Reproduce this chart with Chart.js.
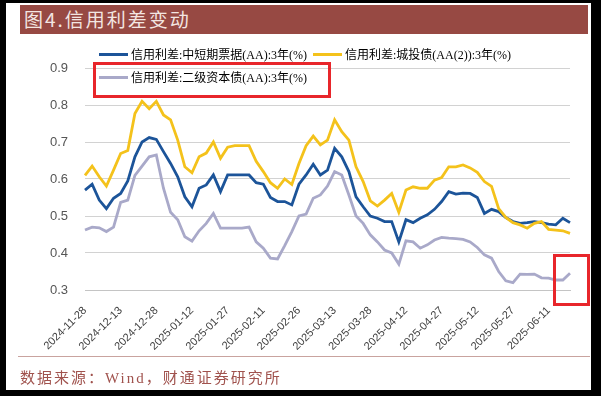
<!DOCTYPE html>
<html>
<head>
<meta charset="utf-8">
<script src="https://cdn.jsdelivr.net/npm/chart.js@4.4.1/dist/chart.umd.min.js"></script>
<style>
  html, body { margin: 0; padding: 0; background: #000; width: 601px; height: 396px; overflow: hidden; }
  .abs { position: absolute; }
  #paper { left: 6px; top: 3px; width: 585px; height: 387px; background: #fff; }
  #titleBar { left: 20px; top: 5px; width: 568px; height: 29px; background: #974943; }
  #titleText { left: 24px; top: 6px; font: 19px "Noto Sans CJK SC", sans-serif; color: #f3e6e2; letter-spacing: 2px; line-height: 26px; }
  #footLine { left: 18px; top: 356px; width: 572px; height: 1px; background: #c9a39f; }
  #footText { left: 20px; top: 367px; font: 15px "Liberation Serif", "Noto Sans CJK SC", serif; color: #a0524d; letter-spacing: 2px; line-height: 22px; }
  #chart { left: 0; top: 0; }
  .legendItem { position: absolute; height: 16px; display: flex; align-items: center; font: 12px "Liberation Serif", "Noto Sans CJK SC", serif; color: #000; white-space: nowrap; }
  .legendItem span.swatch { display: inline-block; width: 29px; height: 3px; margin-right: 3px; }
  .redBox { position: absolute; border: 3px solid #e8262b; box-sizing: border-box; }
</style>
</head>
<body>
<div id="paper" class="abs"></div>
<div id="titleBar" class="abs"></div>
<div id="titleText" class="abs">图4.信用利差变动</div>
<canvas id="chart" class="abs" width="601" height="396"></canvas>
<div id="legend"></div>
<div id="footLine" class="abs"></div>
<div id="footText" class="abs">数据来源：Wind，财通证券研究所</div>
<div class="redBox" style="left:93px;top:62px;width:238px;height:36px;"></div>
<div class="redBox" style="left:553px;top:254px;width:37px;height:52px;"></div>
<script>
// sampled every 3 days starting 2024-11-28
const startDate = '2024-11-28';
const stepDays = 3;

const tickLabels = ['2024-11-28', '2024-12-13', '2024-12-28', '2025-01-12', '2025-01-27',
    '2025-02-11', '2025-02-26', '2025-03-13', '2025-03-28', '2025-04-12',
    '2025-04-27', '2025-05-12', '2025-05-27', '2025-06-11'];

const seriesNames = ['信用利差:中短期票据(AA):3年(%)', '信用利差:城投债(AA(2)):3年(%)', '信用利差:二级资本债(AA):3年(%)'];
const seriesColors = ['#1c5499', '#f4c21b', '#a9a9c9'];

const mtnSpread = [0.57, 0.586, 0.543, 0.52, 0.548, 0.561, 0.595, 0.66, 0.70, 0.712,
    0.707, 0.674, 0.642, 0.606, 0.552, 0.525, 0.575, 0.584, 0.611, 0.566,
    0.611, 0.611, 0.611, 0.611, 0.59, 0.586, 0.55, 0.539, 0.539, 0.53,
    0.586, 0.611, 0.64, 0.611, 0.624, 0.683, 0.66, 0.62, 0.552, 0.525,
    0.50, 0.494, 0.485, 0.485, 0.43, 0.49, 0.482, 0.494, 0.503, 0.518,
    0.539, 0.566, 0.559, 0.562, 0.561, 0.55, 0.507, 0.518, 0.512, 0.496,
    0.485, 0.48, 0.482, 0.485, 0.482, 0.478, 0.476, 0.494, 0.482];

const lgfvSpread = [0.61, 0.635, 0.606, 0.581, 0.624, 0.669, 0.677, 0.777, 0.81, 0.79,
    0.81, 0.773, 0.76, 0.705, 0.633, 0.617, 0.66, 0.67, 0.70, 0.656,
    0.686, 0.69, 0.69, 0.69, 0.648, 0.62, 0.59, 0.575, 0.60, 0.585,
    0.642, 0.69, 0.716, 0.692, 0.705, 0.76, 0.728, 0.705, 0.633, 0.593,
    0.541, 0.527, 0.543, 0.561, 0.51, 0.57, 0.579, 0.575, 0.575, 0.597,
    0.604, 0.633, 0.633, 0.638, 0.63, 0.618, 0.593, 0.58, 0.52, 0.496,
    0.482, 0.476, 0.467, 0.48, 0.485, 0.464, 0.462, 0.46, 0.453];

const tier2Spread = [0.462, 0.47, 0.468, 0.458, 0.47, 0.537, 0.543, 0.61, 0.635, 0.66,
    0.665, 0.575, 0.51, 0.49, 0.444, 0.432, 0.46, 0.48, 0.507, 0.467,
    0.467, 0.467, 0.467, 0.47, 0.43, 0.413, 0.386, 0.384, 0.42, 0.458,
    0.50, 0.505, 0.548, 0.557, 0.581, 0.62, 0.611, 0.557, 0.50, 0.48,
    0.449, 0.43, 0.408, 0.40, 0.37, 0.433, 0.43, 0.413, 0.422, 0.435,
    0.442, 0.44, 0.439, 0.437, 0.43, 0.415, 0.395, 0.386, 0.35, 0.325,
    0.32, 0.343, 0.342, 0.343, 0.333, 0.332, 0.327, 0.327, 0.345];

function buildDates(count) {
    const base = new Date(startDate + 'T00:00:00Z').getTime();
    const out = [];
    for (let i = 0; i < count; i++) {
        out.push(new Date(base + i * stepDays * 86400000).toISOString().slice(0, 10));
    }
    return out;
}

const dates = buildDates(mtnSpread.length);
const allSeries = [mtnSpread, lgfvSpread, tier2Spread];

// legend drawn as html, it sits partly inside the plot
function renderLegend() {
    const legend = document.getElementById('legend');
    const spots = [[99, 46], [313, 46], [99, 69]];
    seriesNames.forEach((name, i) => {
        const item = document.createElement('div');
        item.className = 'legendItem';
        item.style.left = spots[i][0] + 'px';
        item.style.top = spots[i][1] + 'px';
        item.innerHTML = `<span class="swatch" style="background:${seriesColors[i]}"></span>${name}`;
        legend.appendChild(item);
    });
}

function renderChart() {
    const ctx = document.getElementById('chart').getContext('2d');
    new Chart(ctx, {
        type: 'line',
        data: {
            labels: dates,
            datasets: allSeries.map((values, i) => ({
                label: seriesNames[i],
                data: values,
                borderColor: seriesColors[i],
                borderWidth: 2.8,
                pointRadius: 0,
                tension: 0,
                fill: false,
                order: i === 1 ? 0 : (i === 0 ? 1 : 2)
            }))
        },
        options: {
            responsive: false,
            animation: false,
            devicePixelRatio: 1,
            layout: { padding: { left: 40, right: 31, top: 68, bottom: 46 } },
            plugins: {
                legend: { display: false },
                tooltip: { enabled: false }
            },
            scales: {
                x: {
                    grid: { display: false },
                    border: { display: true, color: '#c4c4c4', width: 1 },
                    afterFit: scale => { scale.height = 60; },
                    ticks: {
                        autoSkip: false,
                        minRotation: 45,
                        maxRotation: 45,
                        padding: 6,
                        color: '#404040',
                        font: { family: 'Liberation Sans', size: 11 },
                        callback: function (value) {
                            const label = this.getLabelForValue(value);
                            return tickLabels.includes(label) ? label : '';
                        }
                    }
                },
                y: {
                    min: 0.3,
                    max: 0.9,
                    afterFit: scale => { scale.width = 45; },
                    border: { display: false },
                    grid: { color: '#d2d2d2', borderDash: [2, 3], drawTicks: false, lineWidth: 1 },
                    ticks: {
                        stepSize: 0.1,
                        padding: 17,
                        color: '#555',
                        font: { family: 'Liberation Sans', size: 13 },
                        callback: value => value.toFixed(1)
                    }
                }
            }
        }
    });
}

renderLegend();
renderChart();
</script>
</body>
</html>
